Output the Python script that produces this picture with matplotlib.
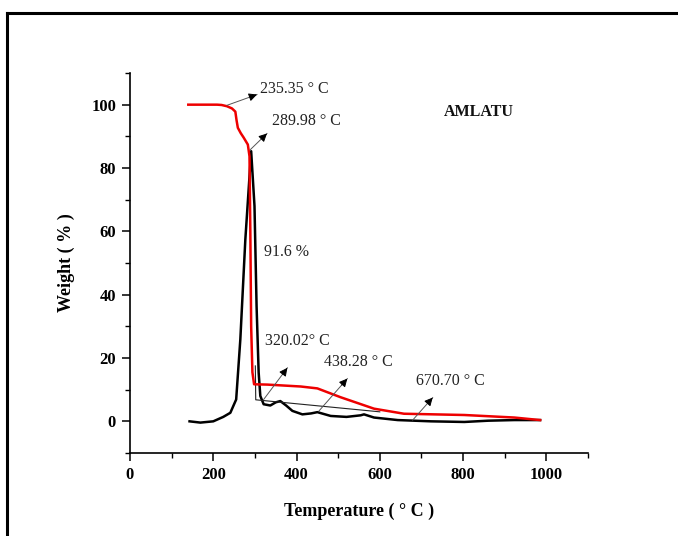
import matplotlib
matplotlib.use('Agg')
import matplotlib.pyplot as plt
from matplotlib.ticker import MultipleLocator
from matplotlib.lines import Line2D

# TGA curve (weight loss, red)
TGA_TEMP = [140, 209, 220, 233, 245, 253, 256, 259, 266, 273, 283, 287, 289, 291, 294, 298,
            330, 410, 450, 506, 586, 658, 803, 923, 985]
TGA_WEIGHT = [100, 100, 99.9, 99.5, 98.8, 97.8, 95.0, 92.7, 91.0, 89.6, 87.4, 83.7, 60, 30, 15.5, 11.7,
              11.6, 11.0, 10.4, 7.6, 4.0, 2.4, 2.0, 1.2, 0.4]

# DTG curve (black)
DTG_TEMP = [143, 169, 200, 224, 241, 255, 265, 277, 291, 299, 304, 309, 313, 321, 337, 350,
            361, 375, 390, 414, 435, 450, 482, 520, 554, 562, 586, 643, 723, 803, 860, 923, 985]
DTG_VALUE = [0, -0.4, 0, 1.4, 2.7, 6.9, 25.9, 57.4, 85.3, 68, 36.4, 15.4, 8.0, 5.4, 5.0, 6.0,
             6.4, 5.0, 3.3, 2.2, 2.5, 2.9, 1.7, 1.4, 1.9, 2.2, 1.2, 0.4, 0.0, -0.2, 0.2, 0.4, 0.4]

# thin baseline drawn under the peaks
BASE_TEMP = [301, 302, 600]
BASE_VALUE = [17.5, 6.8, 3.0]

# annotations: label, text position, arrow tail, arrow head
LABELS = ['235.35 ° C', '289.98 ° C', '320.02° C', '438.28 ° C', '670.70 ° C']
TEXT_POS = [(313, 105), (341, 94.7), (325, 25.3), (466, 18.7), (687, 12.7)]
ARROW_TAIL = [(233, 99.8), (289, 85.8), (321, 6.9), (454, 3.3), (679, 0.4)]
ARROW_HEAD = [(305, 103.2), (329, 90.9), (378, 16.9), (522, 13.5), (727, 7.5)]

SERIF = ['Liberation Serif', 'DejaVu Serif']

fig = plt.figure(figsize=(6.78, 5.36), dpi=100)
ax = fig.add_axes([130 / 678, 1 - 453 / 536, 458 / 678, 380 / 536])

ax.plot(DTG_TEMP, DTG_VALUE, color='black', lw=1.8, zorder=2)
ax.plot(TGA_TEMP, TGA_WEIGHT, color='#ee0000', lw=1.8, zorder=3)
ax.plot(BASE_TEMP, BASE_VALUE, color='#222222', lw=0.8, zorder=2)

for label, pos, tail, head in zip(LABELS, TEXT_POS, ARROW_TAIL, ARROW_HEAD):
    # grey shaft, black head
    ax.plot([tail[0], head[0]], [tail[1], head[1]], color='#555555', lw=0.7, zorder=4)
    near = (tail[0] + 0.8 * (head[0] - tail[0]), tail[1] + 0.8 * (head[1] - tail[1]))
    ax.annotate('', xy=head, xytext=near,
                arrowprops=dict(arrowstyle='-|>', color='black', lw=0.7,
                                mutation_scale=12, shrinkA=0, shrinkB=0), zorder=5)
    ax.text(pos[0], pos[1], label, ha='left', va='center', fontsize=11.5,
            family=SERIF, color='#222222')

ax.text(321, 53.4, '91.6 %', ha='left', va='center', fontsize=11.5, family=SERIF, color='#222222')
ax.text(754, 97.8, 'AMLATU', ha='left', va='center', fontsize=11.5, family=SERIF,
        fontweight='bold', color='#111111')

ax.set_xlim(0, 1100)
ax.set_ylim(-10, 110)
ax.xaxis.set_major_locator(MultipleLocator(200))
ax.xaxis.set_minor_locator(MultipleLocator(100))
ax.yaxis.set_major_locator(MultipleLocator(20))
ax.yaxis.set_minor_locator(MultipleLocator(10))
ax.spines['top'].set_visible(False)
ax.spines['right'].set_visible(False)
for side in ['left', 'bottom']:
    ax.spines[side].set_linewidth(1.2)
ax.tick_params(which='major', direction='out', length=6, width=1.1, pad=4)
ax.tick_params(which='minor', direction='out', length=3.5, width=1.0)
for lbl in ax.get_xticklabels() + ax.get_yticklabels():
    lbl.set_family(SERIF)
    lbl.set_fontweight('bold')
    lbl.set_fontsize(12)

ax.set_xlabel('Temperature ( ° C )', family=SERIF, fontweight='bold', fontsize=13, labelpad=14)
ax.set_ylabel('Weight ( % )', family=SERIF, fontweight='bold', fontsize=13, labelpad=12)

# outer frame (open on the right and bottom)
top = 1 - 13 / 536
left = 7 / 678
fig.add_artist(Line2D([left, left], [0, top], color='black', lw=2.2, transform=fig.transFigure))
fig.add_artist(Line2D([left, 1], [top, top], color='black', lw=2.2, transform=fig.transFigure))

fig.savefig('out.png', dpi=100)
plt.close()
